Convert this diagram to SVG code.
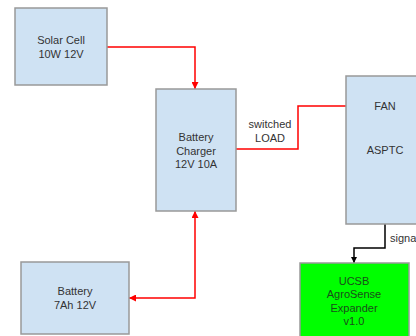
<svg xmlns="http://www.w3.org/2000/svg" width="416" height="336" viewBox="0 0 416 336">
<style>
.box{fill:#cfe2f3;stroke:#999999;stroke-width:1.5}
.green{fill:#00ff00;stroke:#999999;stroke-width:1.5}
.t{font-family:"Liberation Sans",Arial,sans-serif;font-size:11px;fill:#333333;text-anchor:middle;dominant-baseline:central}
.tg{font-family:"Liberation Sans",Arial,sans-serif;font-size:11px;fill:#1a4d1a;text-anchor:middle;dominant-baseline:central}
.red{fill:none;stroke:#ff0000;stroke-width:1.5}
.blk{fill:none;stroke:#000000;stroke-width:1.5}
</style>
<defs>
<marker id="ar" viewBox="0 0 10 10" refX="10" refY="5" markerWidth="7" markerHeight="7" markerUnits="userSpaceOnUse" orient="auto-start-reverse"><path d="M0,0 L10,5 L0,10 z" fill="#ff0000"/></marker>
<marker id="ak" viewBox="0 0 10 10" refX="10" refY="5" markerWidth="6" markerHeight="6" markerUnits="userSpaceOnUse" orient="auto"><path d="M0,0 L10,5 L0,10 z" fill="#000000"/></marker>
</defs>
<rect width="416" height="336" fill="#ffffff"/>
<g id="connectors">
<path class="red" d="M107,47 H195 V89" marker-end="url(#ar)"/>
<path class="red" d="M195,211 V298 H129" marker-start="url(#ar)" marker-end="url(#ar)"/>
<path class="red" d="M236,149 H298 V106 H363" marker-end="url(#ar)"/>
<path class="blk" d="M385,224 V248 H354 V263" marker-end="url(#ak)"/>
<text class="t" x="270" y="124">switched</text>
<text class="t" x="270" y="138">LOAD</text>
<text class="t" x="390" y="238" style="text-anchor:start">signal</text>
</g>
<g id="solar">
<rect class="box" x="15" y="8" width="92" height="77"/>
<text class="t" x="61" y="40">Solar Cell</text>
<text class="t" x="61" y="54">10W 12V</text>
</g>
<g id="charger">
<rect class="box" x="156" y="89" width="80" height="122"/>
<text class="t" x="196" y="137">Battery</text>
<text class="t" x="196" y="151">Charger</text>
<text class="t" x="196" y="164">12V 10A</text>
</g>
<g id="battery">
<rect class="box" x="21" y="262" width="108" height="72"/>
<text class="t" x="75" y="291">Battery</text>
<text class="t" x="75" y="305">7Ah 12V</text>
</g>
<g id="asptc">
<rect class="box" x="346" y="76" width="80" height="148"/>
<text class="t" x="385" y="106">FAN</text>
<text class="t" x="385" y="150">ASPTC</text>
</g>
<g id="agrosense">
<rect class="green" x="300" y="263" width="109" height="80"/>
<text class="tg" x="354" y="281">UCSB</text>
<text class="tg" x="354" y="294">AgroSense</text>
<text class="tg" x="354" y="308">Expander</text>
<text class="tg" x="354" y="321">v1.0</text>
</g>
</svg>
